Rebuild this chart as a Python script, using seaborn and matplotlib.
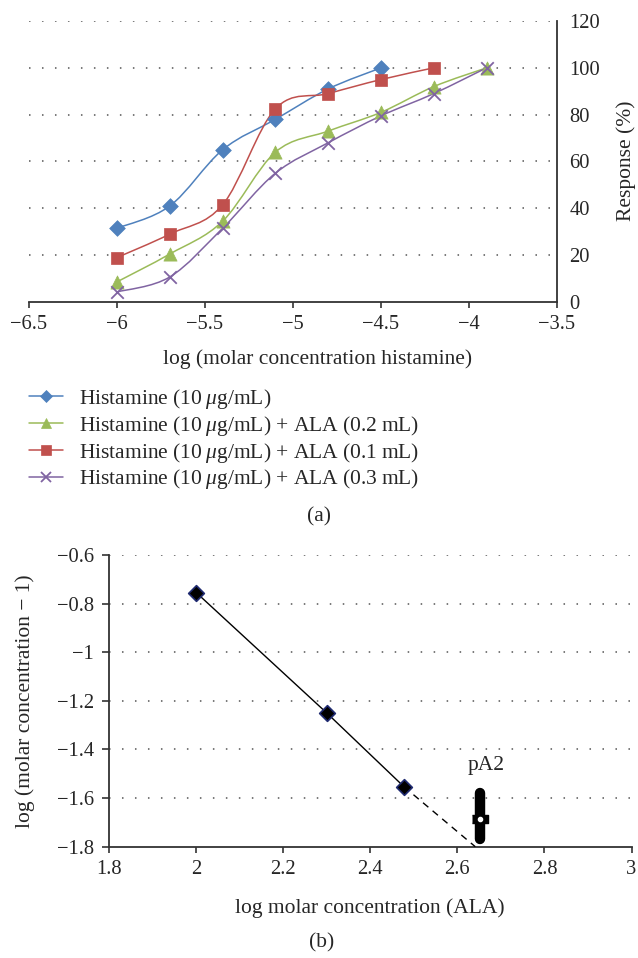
import numpy as np
import pandas as pd
import matplotlib
matplotlib.use("Agg")
import matplotlib.pyplot as plt
from matplotlib.path import Path
from matplotlib.patches import PathPatch
from matplotlib.lines import Line2D
import seaborn as sns

# ---------------- data ----------------
log_hist = [-6.0, -5.7, -5.4, -5.1, -4.8, -4.5, -4.2, -3.9]
resp_hist = [31.5, 41, 65, 78, 91, 100]
resp_ala02 = [8.6, 20.5, 34.5, 64, 73, 81, 92, 100]
resp_ala01 = [19, 29, 41.5, 82.5, 89, 95, 100]
resp_ala03 = [4.3, 10.7, 31.5, 55, 68, 79.5, 89, 100]
series_names = ["Histamine (10\u2009$\\mu$g/mL)",
                "Histamine (10\u2009$\\mu$g/mL) + ALA (0.2\u2009mL)",
                "Histamine (10\u2009$\\mu$g/mL) + ALA (0.1\u2009mL)",
                "Histamine (10\u2009$\\mu$g/mL) + ALA (0.3\u2009mL)"]

log_ala = [2.0, 2.301, 2.477]
log_dr = [-0.755, -1.252, -1.553]
x_intercept = 2.641
pa2_x = 2.653
pa2_low, pa2_mid, pa2_high = -1.78, -1.686, -1.567
pa2_label = "pA2"

top_xticks = [-6.5, -6, -5.5, -5, -4.5, -4, -3.5]
top_yticks = [0, 20, 40, 60, 80, 100, 120]
bot_xticks = [1.8, 2, 2.2, 2.4, 2.6, 2.8, 3]
bot_yticks = [-0.6, -0.8, -1, -1.2, -1.4, -1.6, -1.8]

# ---------------- style ----------------
sns.set_theme(style="white")
plt.rcParams['font.family'] = ['Liberation Serif', 'DejaVu Serif']
plt.rcParams['mathtext.fontset'] = 'custom'
plt.rcParams['mathtext.it'] = 'Liberation Serif:italic'
plt.rcParams['mathtext.rm'] = 'Liberation Serif'
plt.rcParams['axes.unicode_minus'] = True

FS = 15.5
TFS = 14.8
colors = ["#4F81BD", "#9BBB59", "#C0504D", "#8064A2"]
markers = ["D", "^", "s", "x"]
msizes = [8, 9.5, 9, 9]
W, H = 638, 958
fig = plt.figure(figsize=(W / 100, H / 100), dpi=100)
fig.patch.set_facecolor("white")


def fx(px):
    return px / W


def fy(py):
    return 1 - py / H


def smooth_path(xs, ys):
    pts = np.column_stack([xs, ys]).astype(float)
    n = len(pts)
    verts = [pts[0]]
    codes = [Path.MOVETO]
    for i in range(n - 1):
        p0 = pts[i - 1] if i > 0 else pts[i]
        p1 = pts[i]
        p2 = pts[i + 1]
        p3 = pts[i + 2] if i + 2 < n else pts[i + 1]
        c1 = p1 + (p2 - p0) / 6.0
        c2 = p2 - (p3 - p1) / 6.0
        verts += [c1, c2, p2]
        codes += [Path.CURVE4] * 3
    return Path(verts, codes)


grid_style = dict(color="#555555", linestyle=(0, (1, 7.5)), linewidth=1.1)

# ---------------- panel (a) ----------------
axA = fig.add_axes([fx(29), fy(302), fx(557) - fx(29), fy(21) - fy(302)])
all_resp = [resp_hist, resp_ala02, resp_ala01, resp_ala03]
for name, resp, c, m, ms in zip(series_names, all_resp, colors, markers, msizes):
    xs = log_hist[:len(resp)]
    patch = PathPatch(smooth_path(xs, resp), facecolor="none", edgecolor=c,
                      lw=1.1, transform=axA.transData, zorder=3)
    axA.add_patch(patch)
    df = pd.DataFrame({"x": xs, "y": resp})
    if m == "x":
        sns.scatterplot(data=df, x="x", y="y", marker="x", s=(ms) ** 2,
                        color=c, linewidth=1.3, ax=axA, zorder=4, legend=False)
    else:
        sns.scatterplot(data=df, x="x", y="y", marker=m, s=ms ** 2,
                        color=c, edgecolor=c, linewidth=0.5, ax=axA,
                        zorder=4, legend=False)

axA.set_xlim(-6.5, -3.5)
axA.set_ylim(0, 120)
axA.set_xticks(top_xticks)
axA.set_xticklabels([f"{t:g}".replace("-", "\u2212") for t in top_xticks])
axA.set_yticks(top_yticks)
axA.set_yticklabels([f"{t:g}" for t in top_yticks])
axA.yaxis.tick_right()
for t in top_yticks[1:]:
    axA.axhline(t, zorder=1, **grid_style)
for s in ["top", "left"]:
    axA.spines[s].set_visible(False)
for s in ["right", "bottom"]:
    axA.spines[s].set_color("#333333")
    axA.spines[s].set_linewidth(1.3)
axA.tick_params(axis="x", direction="out", length=4.5, width=1.2,
                color="#333333", labelsize=TFS, pad=5, bottom=True)
axA.tick_params(axis="y", length=0, labelsize=TFS, pad=9, right=True, left=False,
                labelright=True, labelleft=False)
axA.set_xlabel("")
axA.set_ylabel("")
axA.set_facecolor("white")

fig.text(fx(318), fy(359), "log (molar concentration histamine)", fontsize=FS,
         ha="center", va="center")
fig.text(fx(626), fy(161), "Response (%)", fontsize=FS, rotation=90,
         ha="center", va="center")

handles = [Line2D([0], [0], color=c, lw=1.1, marker=m, markersize=ms * 0.8,
                  markeredgecolor=c, markeredgewidth=1.3 if m == "x" else 0.5)
           for c, m, ms in zip(colors, markers, msizes)]
leg = fig.legend(handles, series_names, loc="upper left",
                 bbox_to_anchor=(fx(29), fy(387)), frameon=False, fontsize=FS,
                 handlelength=1.6, handletextpad=0.7, labelspacing=0.13,
                 borderpad=0, borderaxespad=0)

fig.text(fx(319), fy(517), "(a)", fontsize=FS, ha="center", va="center")

# ---------------- panel (b) ----------------
axB = fig.add_axes([fx(109.3), fy(846.7), fx(631.5) - fx(109.3), fy(555) - fy(846.7)])
dfB = pd.DataFrame({"x": log_ala, "y": log_dr})
sns.lineplot(data=dfB, x="x", y="y", color="black", lw=1.0, ax=axB, zorder=3)
sns.lineplot(x=[log_ala[-1], x_intercept], y=[log_dr[-1], bot_yticks[-1]],
             color="black", lw=1.0, ax=axB, zorder=3, linestyle=(0, (5, 4)))
sns.scatterplot(data=dfB, x="x", y="y", marker="D", s=8 ** 2, color="black",
                edgecolor="#1F2A70", linewidth=1.2, ax=axB, zorder=4, legend=False)
axB.plot([pa2_x, pa2_x], [pa2_low + 0.012, pa2_high - 0.012], color="black",
         lw=7.5, solid_capstyle="round", zorder=5)
axB.plot([pa2_x], [pa2_mid], marker=[(-1, -0.55), (1, -0.55), (1, 0.55), (-1, 0.55)],
         markersize=11, color="black", zorder=6, linestyle="none")
axB.plot([pa2_x], [pa2_mid], marker="o", markersize=3, color="white",
         markeredgecolor="white", zorder=7, linestyle="none")
axB.text(2.666, -1.464, pa2_label, fontsize=FS, ha="center", va="center")

axB.set_xlim(1.8, 3.0)
axB.set_ylim(-1.8, -0.6)
axB.set_xticks(bot_xticks)
axB.set_xticklabels([f"{t:g}" for t in bot_xticks])
axB.set_yticks(bot_yticks)
axB.set_yticklabels([f"{t:g}".replace("-", "\u2212") for t in bot_yticks])
for t in bot_yticks[:-1]:
    axB.axhline(t, zorder=1, **grid_style)
for s in ["top", "right"]:
    axB.spines[s].set_visible(False)
for s in ["left", "bottom"]:
    axB.spines[s].set_color("#333333")
    axB.spines[s].set_linewidth(1.3)
axB.tick_params(axis="x", direction="out", length=4.5, width=1.2, color="#333333",
                labelsize=TFS, pad=5, bottom=True)
axB.tick_params(axis="y", direction="out", length=5, width=1.2, color="#333333",
                labelsize=TFS, pad=6, left=True)
axB.set_xlabel("")
axB.set_ylabel("")
axB.set_facecolor("white")

fig.text(fx(370), fy(908), "log molar concentration (ALA)", fontsize=FS,
         ha="center", va="center")
fig.text(fx(25), fy(701), "log (molar concentration \u2212 1)", fontsize=FS,
         rotation=90, ha="center", va="center")
fig.text(fx(322), fy(943), "(b)", fontsize=FS, ha="center", va="center")

fig.savefig("out.png", dpi=100, facecolor="white")
